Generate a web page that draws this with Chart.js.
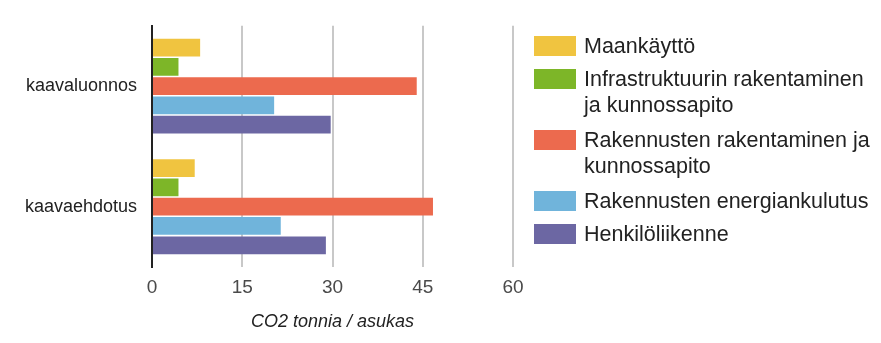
<!DOCTYPE html>
<html>
<head>
<meta charset="utf-8">
<script src="https://cdn.jsdelivr.net/npm/chart.js@4/dist/chart.umd.min.js"></script>
<style>
  html, body { margin: 0; padding: 0; background: #fff; }
  #wrap { width: 881px; height: 343px; }
</style>
</head>
<body>
<div id="wrap"><canvas id="co2Chart" width="881" height="343"></canvas></div>
<script>
const categories = ['kaavaluonnos', 'kaavaehdotus'];

const maankaytto = [8.0, 7.1];
const infrastruktuuri = [4.4, 4.4];
const rakentaminen = [44.0, 46.7];
const energiankulutus = [20.3, 21.4];
const henkiloliikenne = [29.7, 28.9];

const seriesLabels = [
  ['Maankäyttö'],
  ['Infrastruktuurin rakentaminen', 'ja kunnossapito'],
  ['Rakennusten rakentaminen ja', 'kunnossapito'],
  ['Rakennusten energiankulutus'],
  ['Henkilöliikenne']
];
const seriesColors = ['#f0c440', '#7db628', '#ec6a4e', '#70b4db', '#6c67a3'];

const fontFamily = "'Liberation Sans', Arial, sans-serif";

// legend on the right, drawn by hand so labels can wrap onto two lines
const sideLegend = {
  id: 'sideLegend',
  afterDraw(chart) {
    const ctx = chart.ctx;
    let y = 46;
    ctx.save();
    ctx.font = '21.5px ' + fontFamily;
    ctx.textBaseline = 'middle';
    chart.data.datasets.forEach(ds => {
      const lines = ds.label;
      ctx.fillStyle = ds.backgroundColor;
      ctx.fillRect(534, y - 10, 42, 20);
      ctx.fillStyle = '#222';
      lines.forEach((line, i) => {
        ctx.fillText(line, 584, y + 1 + i * 26);
      });
      y += 33 + (lines.length - 1) * 28;
    });
    ctx.restore();
  }
};

const datasets = [maankaytto, infrastruktuuri, rakentaminen, energiankulutus, henkiloliikenne]
  .map((values, i) => ({
    label: seriesLabels[i],
    data: values,
    backgroundColor: seriesColors[i],
    borderWidth: 0,
    categoryPercentage: 0.8,
    barPercentage: 0.92
  }));

const ctx = document.getElementById('co2Chart').getContext('2d');
new Chart(ctx, {
  type: 'bar',
  data: { labels: categories, datasets },
  options: {
    indexAxis: 'y',
    responsive: false,
    animation: false,
    layout: { padding: { top: 12, right: 368, left: 0, bottom: 0 } },
    plugins: {
      legend: { display: false },
      tooltip: { enabled: false }
    },
    scales: {
      x: {
        min: 0,
        max: 60,
        ticks: {
          stepSize: 15,
          color: '#4a4a4a',
          padding: 9,
          font: { family: fontFamily, size: 19 }
        },
        grid: { color: '#c8c8c8', lineWidth: 2, drawTicks: false },
        border: { display: false },
        title: {
          display: true,
          text: 'CO2 tonnia / asukas',
          color: '#222',
          font: { family: fontFamily, size: 18, style: 'italic' },
          padding: { top: 0, bottom: 10 }
        },
        afterFit(scale) { scale.height = 76; }
      },
      y: {
        grid: { display: false, drawTicks: false },
        border: { color: '#222', width: 2 },
        ticks: {
          color: '#222',
          padding: 15,
          font: { family: fontFamily, size: 18 }
        },
        afterFit(scale) { scale.width = 152; }
      }
    }
  },
  plugins: [sideLegend]
});
</script>
</body>
</html>
